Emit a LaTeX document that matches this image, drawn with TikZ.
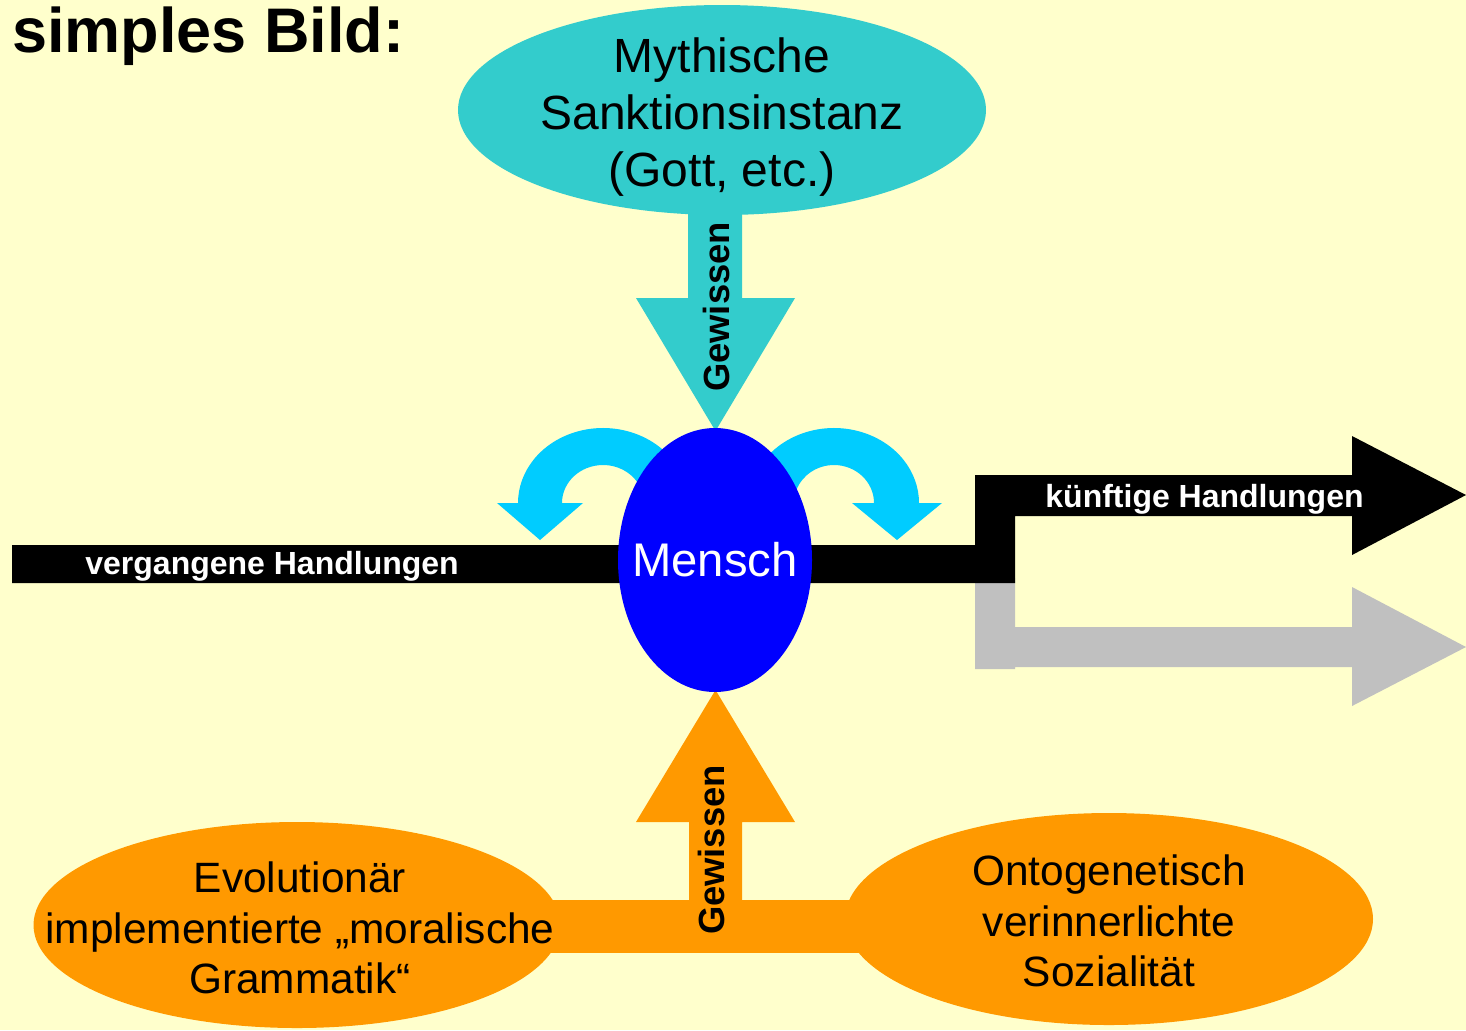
\documentclass[tikz,border=0pt]{standalone}
\usepackage{fontspec}
\setmainfont{Liberation Sans}
\usetikzlibrary{shapes.geometric}
\definecolor{bgyellow}{HTML}{FFFFCC}
\definecolor{tealc}{HTML}{33CCCC}
\definecolor{cyanc}{HTML}{00CCFF}
\definecolor{bluec}{HTML}{0000FF}
\definecolor{orangec}{HTML}{FF9900}
\definecolor{grayc}{HTML}{C0C0C0}
\tikzset{
  ell/.style={ellipse, inner sep=0pt},
  txt/.style={inner sep=0pt, align=center},
  bigtext/.style={font=\fontsize{24}{28.5}\selectfont},
  midtext/.style={font=\fontsize{21.2}{25.3}\selectfont},
  barlabel/.style={font=\bfseries\fontsize{16}{18}\selectfont, text=white, inner sep=0pt, anchor=base west},
  gewlabel/.style={font=\bfseries\fontsize{18.2}{20}\selectfont, rotate=90, inner sep=0pt},
}
\begin{document}
\begin{tikzpicture}[x=0.5pt,y=-0.5pt]
\fill[bgyellow] (0,0) rectangle (1466,1030);
\useasboundingbox (0,0) rectangle (1466,1030);

\node[anchor=base west, inner sep=0pt, font=\bfseries\fontsize{31.5}{36}\selectfont] (title) at (12,52) {simples Bild:};

% teal arrow down
\fill[tealc] (688,200) -- (742,200) -- (742,298) -- (795,298) -- (715.5,431) -- (636,298) -- (688,298) -- cycle;
\node[ell, fill=tealc, minimum width=264pt, minimum height=105pt] (myth) at (722,110) {};
\node[txt, bigtext] (mythtext) at (722,117) {Mythische\\Sanktionsinstanz\\(Gott, etc.)};

% gray future arrow
\fill[grayc] (975,578) -- (1015,578) -- (1015,627) -- (1352,627) -- (1352,587) -- (1466,647) -- (1352,706) -- (1352,667) -- (1015,667) -- (1015,669) -- (975,669) -- cycle;
% black time bar with future arrow
\fill[black] (12,545) -- (975,545) -- (975,475) -- (1352,475) -- (1352,436) -- (1466,495) -- (1352,555) -- (1352,516) -- (1015,516) -- (1015,583) -- (12,583) -- cycle;

% cyan curved arrows
\fill[cyanc] (603,503) ++(-20:85 and 75) arc[start angle=-20, end angle=-180, x radius=85, y radius=75]
  -- (497,503) -- (540,540) -- (583,503) -- (562,503)
  arc[start angle=-180, end angle=-20, x radius=41, y radius=38] -- cycle;
\fill[cyanc] (834,503) ++(-160:85 and 75) arc[start angle=-160, end angle=0, x radius=85, y radius=75]
  -- (942,503) -- (897,540) -- (852,503) -- (874,503)
  arc[start angle=0, end angle=-160, x radius=40, y radius=38] -- cycle;

% orange bar and arrow up
\fill[orangec] (540,900) rectangle (872,953);
\fill[orangec] (689,910) -- (689,822) -- (636,822) -- (715.5,690) -- (795,822) -- (742,822) -- (742,910) -- cycle;
\node[ell, fill=orangec, minimum width=263.5pt, minimum height=103pt] (evo) at (297,925) {};
\node[txt, midtext] (evotext) at (300,928) {Evolutionär\\implementierte „moralische\\Grammatik“};
\node[ell, fill=orangec, minimum width=264pt, minimum height=106pt] (onto) at (1109,919) {};
\node[txt, midtext] (ontotext) at (1109,921) {Ontogenetisch\\verinnerlichte\\Sozialität};

% Mensch
\node[ell, fill=bluec, minimum width=97pt, minimum height=132pt] (mensch) at (715,560) {};
\node[txt, text=white, font=\fontsize{23.6}{28}\selectfont] (menschtext) at (mensch.center) {Mensch};

% labels
\node[barlabel] (past) at (85,574) {vergangene Handlungen};
\node[barlabel] (future) at (1045,507) {künftige Handlungen};
\node[gewlabel] (gew1) at (716,307) {Gewissen};
\node[gewlabel] (gew2) at (711,850) {Gewissen};
\end{tikzpicture}
\end{document}
